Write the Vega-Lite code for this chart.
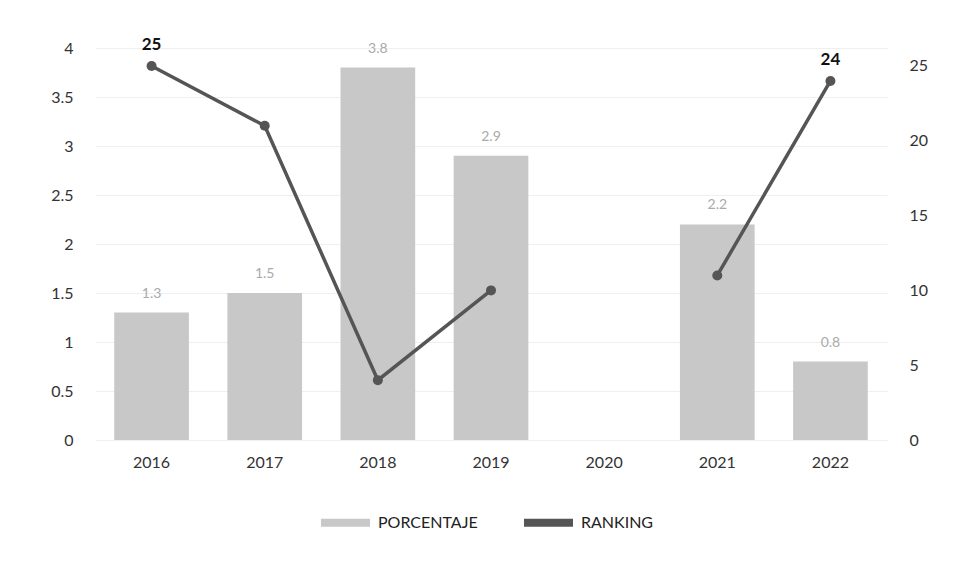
{
  "$schema": "https://vega.github.io/schema/vega-lite/v6.json",
  "width": 792,
  "height": 392,
  "autosize": "none",
  "padding": {"left": 95, "top": 48, "right": 71, "bottom": 126},
  "background": "white",
  "config": {
    "font": "Lato",
    "view": {"stroke": null},
    "axis": {"labelFont": "Lato", "labelFontSize": 16, "labelColor": "#333", "domain": false, "ticks": false, "title": null}
  },
  "data": {
    "values": [
      {"year": "2016", "pct": 1.3, "rank": 25},
      {"year": "2017", "pct": 1.5, "rank": 21},
      {"year": "2018", "pct": 3.8, "rank": 4},
      {"year": "2019", "pct": 2.9, "rank": 10},
      {"year": "2020", "pct": null, "rank": null},
      {"year": "2021", "pct": 2.2, "rank": 11},
      {"year": "2022", "pct": 0.8, "rank": 24}
    ]
  },
  "encoding": {
    "x": {
      "field": "year", "type": "nominal",
      "scale": {"domain": ["2016","2017","2018","2019","2020","2021","2022"], "paddingInner": 0.34, "paddingOuter": 0.17},
      "axis": {"labelAngle": 0, "labelPadding": 14, "grid": false, "labelColor": "#333"}
    }
  },
  "layer": [
    {
      "layer": [
        {
          "mark": {"type": "bar", "opacity": 1},
          "encoding": {
            "y": {"field": "pct", "type": "quantitative", "scale": {"domain": [0, 4], "nice": false},
              "axis": {"orient": "left", "values": [0,0.5,1,1.5,2,2.5,3,3.5,4], "format": "~g", "grid": true, "gridColor": "#efefef", "labelPadding": 22}},
            "color": {"datum": "PORCENTAJE", "type": "nominal",
              "scale": {"domain": ["PORCENTAJE", "RANKING"], "range": ["#c8c8c8", "#555555"]},
              "legend": {
                "orient": "none", "legendX": 222, "legendY": 446, "direction": "horizontal",
                "title": null, "symbolType": "stroke", "symbolStrokeWidth": 8, "symbolSize": 2400,
                "labelFontSize": 16, "labelColor": "#222", "labelFont": "Lato", "columnPadding": 30,
                "encode": {"symbols": {"update": {"stroke": {"scale": "color", "field": "value"}}}}
              }}
          }
        },
        {
          "mark": {"type": "text", "baseline": "bottom", "dy": -12, "fontSize": 14, "color": "#aaaaaa"},
          "encoding": {
            "y": {"field": "pct", "type": "quantitative"},
            "text": {"field": "pct", "type": "quantitative", "format": ".1f"}
          }
        }
      ]
    },
    {
      "layer": [
        {
          "mark": {"type": "line", "strokeWidth": 3.5, "color": "#555555", "invalid": "break-paths-show-domains",
            "point": {"filled": true, "size": 100, "color": "#5a5a5a"}},
          "encoding": {
            "y": {"field": "rank", "type": "quantitative", "scale": {"domain": [0, 26.2], "nice": false},
              "axis": {"orient": "right", "values": [0,5,10,15,20,25], "grid": false, "labelPadding": 22}},
            "color": {"datum": "RANKING", "type": "nominal"}
          }
        },
        {
          "transform": [{"filter": "datum.year == '2016' || datum.year == '2022'"}],
          "mark": {"type": "text", "baseline": "bottom", "dy": -12, "fontSize": 17, "fontWeight": "bold", "color": "#111"},
          "encoding": {
            "y": {"field": "rank", "type": "quantitative"},
            "text": {"field": "rank", "type": "quantitative"}
          }
        }
      ]
    }
  ],
  "resolve": {"scale": {"y": "independent"}}
}
